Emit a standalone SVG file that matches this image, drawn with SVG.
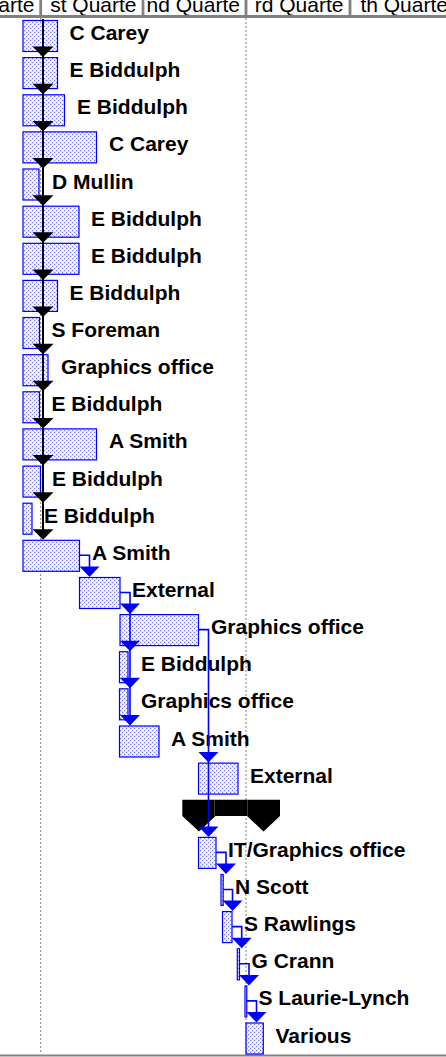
<svg xmlns="http://www.w3.org/2000/svg" width="446" height="1057" viewBox="0 0 446 1057">
  <defs>
    <pattern id="dots" width="4" height="4" patternUnits="userSpaceOnUse">
      <rect width="4" height="4" fill="#dedeff"/>
      <rect x="0" y="0" width="2" height="1" fill="#ffffff"/>
      <rect x="2" y="2" width="2" height="1" fill="#ffffff"/>
      <rect x="0" y="1" width="1" height="1" fill="#f4f4ff"/>
      <rect x="2" y="0" width="1" height="1" fill="#7a7aff"/>
      <rect x="0" y="2" width="1" height="1" fill="#7a7aff"/>
    </pattern>
  </defs>
  <style>
    .hdr { font-family: "Liberation Sans", Arial, sans-serif; font-size: 21px; fill: #000; text-anchor: end; }
    .sep { stroke: #808080; stroke-width: 2.8; }
    .grid { stroke: #808080; stroke-width: 1; stroke-dasharray: 2 2; }
    .bar { fill: url(#dots); stroke: #0000ff; stroke-width: 1.2; }
    .lbl { font-family: "Liberation Sans", Arial, sans-serif; font-size: 21px; font-weight: bold; fill: #000; }
    .lnk { fill: none; stroke: #0000ff; stroke-width: 1.6; }
    .lnkB { fill: none; stroke: #000000; stroke-width: 2; }
    .ahB { fill: #0000ff; }
    .ahK { fill: #000000; }
  </style>

  <rect width="446" height="1057" fill="#ffffff"/>

  <!-- timescale header -->
  <g id="timescale">
    <text class="hdr" x="34.5" y="11.5">arte</text>
    <text class="hdr" x="136.5" y="11.5">st Quarte</text>
    <text class="hdr" x="240" y="11.5">nd Quarte</text>
    <text class="hdr" x="343.5" y="11.5">rd Quarte</text>
    <text class="hdr" x="448" y="11.5">th Quarte</text>
    <line class="sep" x1="40.7" y1="0" x2="40.7" y2="16"/>
    <line class="sep" x1="143" y1="0" x2="143" y2="16"/>
    <line class="sep" x1="246" y1="0" x2="246" y2="16"/>
    <line class="sep" x1="350" y1="0" x2="350" y2="16"/>
    <line x1="0" y1="16.5" x2="446" y2="16.5" stroke="#808080" stroke-width="3"/>
  </g>

  <!-- quarter gridlines and bottom border -->
  <g id="gridlines">
    <line class="grid" x1="40.7" y1="18" x2="40.7" y2="1054"/>
    <line class="grid" x1="246" y1="18" x2="246" y2="1054"/>
    <line x1="0" y1="1055.5" x2="446" y2="1055.5" stroke="#808080" stroke-width="2"/>
  </g>

  <!-- task bars -->
  <g id="task1"><rect class="bar" x="23" y="20.5" width="34.5" height="31"/><text class="lbl" x="69.5" y="40">C Carey</text></g>
  <g id="task2"><rect class="bar" x="23" y="57.6" width="34.5" height="31"/><text class="lbl" x="69.5" y="77.1">E Biddulph</text></g>
  <g id="task3"><rect class="bar" x="23" y="94.8" width="41.5" height="31"/><text class="lbl" x="77" y="114.3">E Biddulph</text></g>
  <g id="task4"><rect class="bar" x="23" y="131.9" width="73.5" height="31"/><text class="lbl" x="109" y="151.4">C Carey</text></g>
  <g id="task5"><rect class="bar" x="23" y="169" width="16" height="31"/><text class="lbl" x="52" y="188.5">D Mullin</text></g>
  <g id="task6"><rect class="bar" x="23" y="206.2" width="56" height="31"/><text class="lbl" x="91" y="225.7">E Biddulph</text></g>
  <g id="task7"><rect class="bar" x="23" y="243.3" width="56" height="31"/><text class="lbl" x="91" y="262.8">E Biddulph</text></g>
  <g id="task8"><rect class="bar" x="23" y="280.4" width="34.5" height="31"/><text class="lbl" x="69.5" y="299.9">E Biddulph</text></g>
  <g id="task9"><rect class="bar" x="23" y="317.5" width="16.5" height="31"/><text class="lbl" x="51.5" y="337">S Foreman</text></g>
  <g id="task10"><rect class="bar" x="23" y="354.7" width="25" height="31"/><text class="lbl" x="61" y="374.2">Graphics office</text></g>
  <g id="task11"><rect class="bar" x="23" y="391.8" width="16.5" height="31"/><text class="lbl" x="51.5" y="411.3">E Biddulph</text></g>
  <g id="task12"><rect class="bar" x="23" y="428.9" width="73.5" height="31"/><text class="lbl" x="109" y="448.4">A Smith</text></g>
  <g id="task13"><rect class="bar" x="23" y="466.1" width="17.5" height="31"/><text class="lbl" x="52" y="485.6">E Biddulph</text></g>
  <g id="task14"><rect class="bar" x="23" y="503.2" width="9" height="31"/><text class="lbl" x="44" y="522.7">E Biddulph</text></g>
  <g id="task15"><rect class="bar" x="23" y="540.3" width="56.5" height="31"/><text class="lbl" x="92" y="559.8">A Smith</text></g>
  <g id="task16"><rect class="bar" x="79.5" y="577.5" width="40.5" height="31"/><text class="lbl" x="132" y="597">External</text></g>
  <g id="task17"><rect class="bar" x="120" y="614.6" width="78.5" height="31"/><text class="lbl" x="211" y="634.1">Graphics office</text></g>
  <g id="task18"><rect class="bar" x="119.5" y="651.7" width="8.5" height="31"/><text class="lbl" x="141" y="671.2">E Biddulph</text></g>
  <g id="task19"><rect class="bar" x="119.5" y="688.8" width="8.5" height="31"/><text class="lbl" x="141" y="708.3">Graphics office</text></g>
  <g id="task20"><rect class="bar" x="119.5" y="726" width="39.5" height="31"/><text class="lbl" x="171" y="745.5">A Smith</text></g>
  <g id="task21"><rect class="bar" x="198.5" y="763.1" width="39.5" height="31"/><text class="lbl" x="250" y="782.6">External</text></g>

  <!-- summary bar -->
  <g id="summary">
    <path d="M182.3,799.7 H280 V816 L263.5,831.5 L247,816 H215.5 L199,831.5 L182.3,816 Z" fill="#000000"/>
    <line x1="214.5" y1="800" x2="214.5" y2="816" stroke="#3c3c3c" stroke-width="1"/>
    <line x1="247.5" y1="800" x2="247.5" y2="816" stroke="#3c3c3c" stroke-width="1"/>
  </g>

  <g id="task23"><rect class="bar" x="198.5" y="837.4" width="17.5" height="31"/><text class="lbl" x="228" y="856.9">IT/Graphics office</text></g>
  <g id="task24"><rect class="bar" x="221" y="874.5" width="2.2" height="31"/><text class="lbl" x="235" y="894">N Scott</text></g>
  <g id="task25"><rect class="bar" x="222.5" y="911.6" width="9.5" height="31"/><text class="lbl" x="244" y="931.1">S Rawlings</text></g>
  <g id="task26"><rect class="bar" x="237.3" y="948.8" width="2.2" height="31"/><text class="lbl" x="251.5" y="968.3">G Crann</text></g>
  <g id="task27"><rect class="bar" x="245" y="985.9" width="1.8" height="31"/><text class="lbl" x="258.5" y="1005.4">S Laurie-Lynch</text></g>
  <g id="task28"><rect class="bar" x="246" y="1023" width="17.3" height="31"/><text class="lbl" x="275.5" y="1042.5">Various</text></g>

  <!-- dependency links -->
  <g id="connectors">
    <!-- chain of black links down the first column -->
    <line class="lnkB" x1="43" y1="19" x2="43" y2="531"/>
    <path class="ahK" d="M32.5,46.6 H53.5 L43,57.1 Z"/>
    <path class="ahK" d="M32.5,83.8 H53.5 L43,94.3 Z"/>
    <path class="ahK" d="M32.5,120.9 H53.5 L43,131.4 Z"/>
    <path class="ahK" d="M32.5,158 H53.5 L43,168.5 Z"/>
    <path class="ahK" d="M32.5,195.2 H53.5 L43,205.7 Z"/>
    <path class="ahK" d="M32.5,232.3 H53.5 L43,242.8 Z"/>
    <path class="ahK" d="M32.5,269.4 H53.5 L43,279.9 Z"/>
    <path class="ahK" d="M32.5,306.5 H53.5 L43,317 Z"/>
    <path class="ahK" d="M32.5,343.7 H53.5 L43,354.2 Z"/>
    <path class="ahK" d="M32.5,380.8 H53.5 L43,391.3 Z"/>
    <path class="ahK" d="M32.5,417.9 H53.5 L43,428.4 Z"/>
    <path class="ahK" d="M32.5,455.1 H53.5 L43,465.6 Z"/>
    <path class="ahK" d="M32.5,492.2 H53.5 L43,502.7 Z"/>
    <path class="ahK" d="M32.5,529.3 H53.5 L43,539.8 Z"/>

    <!-- blue finish-to-start links -->
    <path class="lnk" d="M79.5,555.3 H89.5 V567"/>
    <path class="ahB" d="M79.5,566.5 H99.5 L89.5,577 Z"/>

    <path class="lnk" d="M120,592.5 H130 V604"/>
    <path class="ahB" d="M120,603.6 H140 L130,614.1 Z"/>

    <path class="lnk" d="M130,612 V716"/>
    <path class="ahB" d="M120,640.7 H140 L130,651.2 Z"/>
    <path class="ahB" d="M120,677.8 H140 L130,688.3 Z"/>
    <path class="ahB" d="M120,715 H140 L130,725.5 Z"/>

    <path class="lnk" d="M198.5,629.6 H208.5 V827"/>
    <path class="ahB" d="M198.5,752.1 H218.5 L208.5,762.6 Z"/>
    <path class="ahB" d="M198.5,826.4 H218.5 L208.5,836.9 Z"/>

    <path class="lnk" d="M216,852.4 H226 V864"/>
    <path class="ahB" d="M216,863.5 H236 L226,874 Z"/>

    <path class="lnk" d="M223.2,889.5 H232.5 V901"/>
    <path class="ahB" d="M222.5,900.6 H242.5 L232.5,911.1 Z"/>

    <path class="lnk" d="M232,926.6 H241.7 V938"/>
    <path class="ahB" d="M231.7,937.8 H251.7 L241.7,948.3 Z"/>

    <path class="lnk" d="M239.5,963.8 H249 V975"/>
    <path class="ahB" d="M239,974.9 H259 L249,985.4 Z"/>

    <path class="lnk" d="M246.8,1000.9 H256.5 V1012"/>
    <path class="ahB" d="M246.5,1012 H266.5 L256.5,1022.5 Z"/>
  </g>
</svg>
